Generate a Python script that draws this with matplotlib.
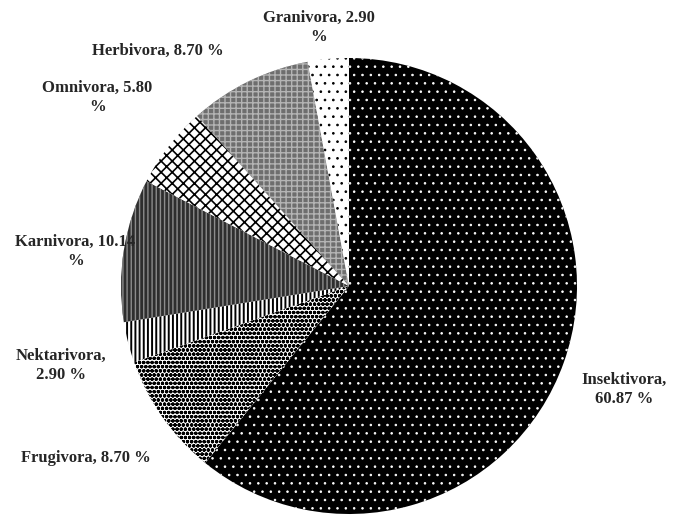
import numpy as np
import matplotlib
matplotlib.use('Agg')
from matplotlib import pyplot as plt

# feeding guilds (%), clockwise from the top
guilds = ['Insektivora', 'Frugivora', 'Nektarivora', 'Karnivora',
          'Omnivora', 'Herbivora', 'Granivora']
shares = [60.87, 8.70, 2.90, 10.14, 5.80, 8.70, 2.90]
label_texts = ['Insektivora,\n60.87 %', 'Frugivora, 8.70 %', 'Nektarivora,\n2.90 %',
               'Karnivora, 10.14\n%', 'Omnivora, 5.80\n%', 'Herbivora, 8.70 %',
               'Granivora, 2.90\n%']

# styling per slice: face colour, hatch, hatch colour, hatch width
faces = ['black', 'white', 'white', '#2e2e2e', 'white', '#6e6e6e', 'white']
hatches = ['..', 'oooo', '||||', '||||', 'xxx', '+++', '..']
hatch_cols = ['white', 'black', 'black', '#8c8c8c', 'black', '#b4b4b4', 'black']
hatch_lw = [0.6, 1.2, 1.4, 1.0, 1.2, 1.0, 0.7]
# label placement: distance (in radii) and angle nudge (deg)
lab_dist = [1.29, 1.38, 1.31, 1.21, 1.38, 1.33, 1.14]
lab_nudge = [-1.0, -2.0, 1.0, 2.0, 1.0, 13.0, 1.5]

plt.rcParams['hatch.linewidth'] = 1.2

fig = plt.figure(figsize=(6.75, 5.3), dpi=100)
ax = fig.add_axes([0, 0, 1, 1])

cx, cy, r = 349, 244, 228
wedges, _ = ax.pie(shares, startangle=90, counterclock=False, radius=r,
                   center=(cx, cy), wedgeprops=dict(linewidth=0))
for w, fc, h, hc, hl in zip(wedges, faces, hatches, hatch_cols, hatch_lw):
    w.set_facecolor(fc)
    w.set_hatch(h)
    w.set_edgecolor(hc)
    w.set_linewidth(0)
    if hasattr(w, 'set_hatch_linewidth'):
        w.set_hatch_linewidth(hl)

for w, txt, d, nd in zip(wedges, label_texts, lab_dist, lab_nudge):
    ang = np.deg2rad((w.theta1 + w.theta2) / 2 + nd)
    ax.text(cx + d * r * np.cos(ang), cy + d * r * np.sin(ang), txt,
            ha='center', va='center', family='Liberation Serif',
            fontweight='bold', fontsize=12, color='#262626', linespacing=1.25)

ax.set_xlim(0, 675)
ax.set_ylim(0, 530)
ax.set_aspect('equal')
ax.axis('off')

fig.savefig('out.png', dpi=100)
